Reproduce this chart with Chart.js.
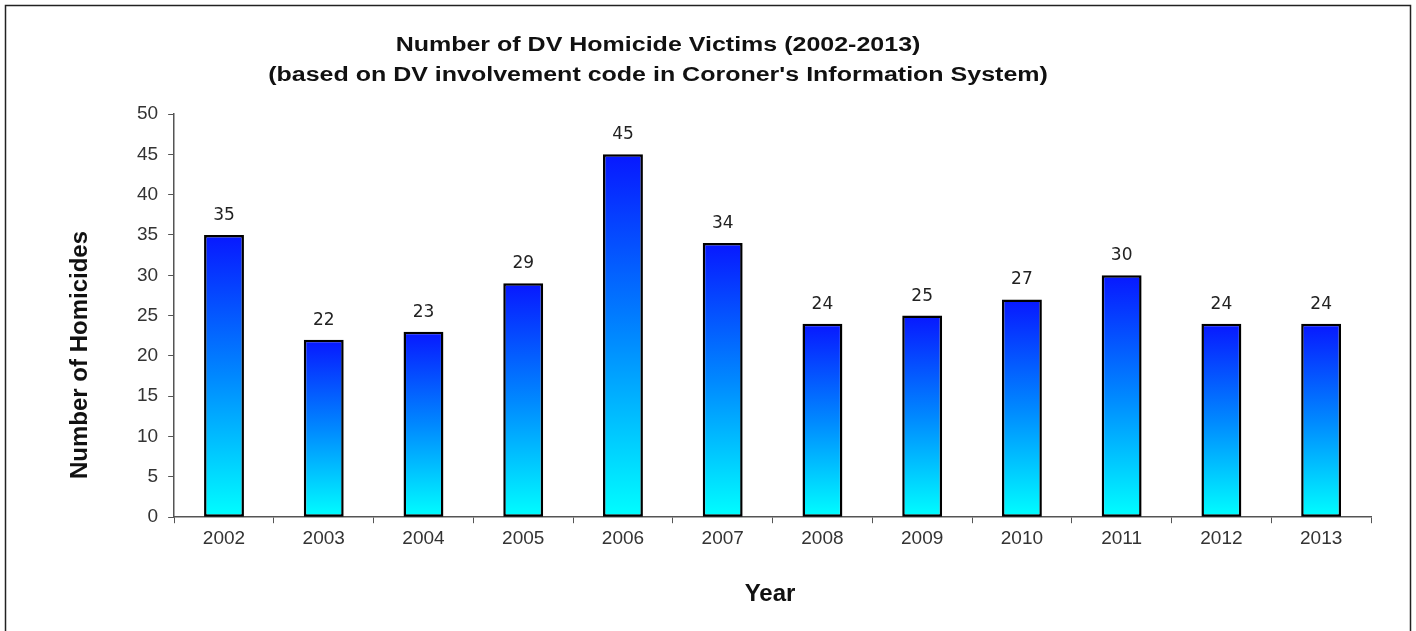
<!DOCTYPE html>
<html>
<head>
<meta charset="utf-8">
<script src="https://cdn.jsdelivr.net/npm/chart.js@4"></script>
<style>
  html, body { margin: 0; padding: 0; background: #fff; }
  #wrap { width: 1416px; height: 631px; }
</style>
</head>
<body>
<div id="wrap"><canvas id="dvChart" width="1416" height="631"></canvas></div>
<script>
const years = ['2002', '2003', '2004', '2005', '2006', '2007', '2008', '2009', '2010', '2011', '2012', '2013'];
const homicides = [35, 22, 23, 29, 45, 34, 24, 25, 27, 30, 24, 24];
const yTicks = [0, 5, 10, 15, 20, 25, 30, 35, 40, 45, 50];
const titleLines = ['Number of DV Homicide Victims (2002-2013)', "(based on DV involvement code in Coroner's Information System)"];
const xTitle = 'Year';
const yTitle = 'Number of Homicides';

// each bar gets its own blue -> cyan gradient, top to bottom
const barGradient = (context) => {
  const chart = context.chart;
  const { ctx, chartArea, scales } = chart;
  if (!chartArea) return '#0066ff';
  const v = homicides[context.dataIndex];
  const top = scales.y.getPixelForValue(v);
  const bottom = scales.y.getPixelForValue(0);
  const g = ctx.createLinearGradient(0, top, 0, bottom);
  g.addColorStop(0, '#0818ff');
  g.addColorStop(0.5, '#0088ff');
  g.addColorStop(1, '#00ffff');
  return g;
};

const valueLabels = {
  id: 'valueLabels',
  afterDatasetsDraw(chart) {
    const { ctx } = chart;
    const meta = chart.getDatasetMeta(0);
    ctx.save();
    ctx.font = '17px "DejaVu Sans"';
    ctx.fillStyle = '#222';
    ctx.textAlign = 'center';
    ctx.textBaseline = 'alphabetic';
    meta.data.forEach((bar, i) => {
      ctx.fillText(homicides[i], bar.x, bar.y - 15);
    });
    ctx.restore();
  }
};

// frame + titles (the original titles are wide and not centred on the plot)
const decorations = {
  id: 'decorations',
  beforeDraw(chart) {
    const { ctx } = chart;
    ctx.save();
    ctx.strokeStyle = '#222';
    ctx.lineWidth = 1.5;
    ctx.strokeRect(5.5, 5.5, 1405, 640);
    ctx.restore();
  },
  afterDraw(chart) {
    const { ctx } = chart;
    ctx.save();
    ctx.fillStyle = '#111';
    ctx.textAlign = 'center';
    ctx.textBaseline = 'middle';

    ctx.font = 'bold 20px Arial, "Liberation Sans"';
    titleLines.forEach((line, i) => {
      ctx.save();
      ctx.translate(658, 45 + i * 30);
      ctx.scale(1.25, 1);
      ctx.fillText(line, 0, 0);
      ctx.restore();
    });

    ctx.font = 'bold 24px Arial, "Liberation Sans"';
    ctx.fillText(xTitle, 770, 594);

    ctx.save();
    ctx.translate(80, 355);
    ctx.rotate(-Math.PI / 2);
    ctx.fillText(yTitle, 0, 0);
    ctx.restore();

    ctx.restore();
  }
};

const ctx = document.getElementById('dvChart').getContext('2d');
new Chart(ctx, {
  type: 'bar',
  data: {
    labels: years,
    datasets: [
      {
        label: 'DV Homicide Victims',
        data: homicides,
        backgroundColor: barGradient,
        borderColor: '#000',
        borderWidth: 2.5,
        borderSkipped: false,
        categoryPercentage: 1,
        barPercentage: 0.4,
      },
    ],
  },
  options: {
    responsive: false,
    animation: false,
    layout: {
      padding: { left: 127, right: 45, top: 114, bottom: 77 },
    },
    plugins: {
      legend: { display: false },
      tooltip: { enabled: false },
      title: { display: false },
    },
    scales: {
      x: {
        grid: { drawOnChartArea: false, drawTicks: true, tickLength: 6, color: '#555', offset: true },
        border: { display: true, color: '#555', width: 1.5 },
        ticks: {
          color: '#333',
          padding: 4,
          font: { family: 'Arial, "Liberation Sans"', size: 19 },
        },
      },
      y: {
        min: 0,
        max: 50,
        afterBuildTicks: (axis) => { axis.ticks = yTicks.map((v) => ({ value: v })); },
        grid: { drawOnChartArea: false, drawTicks: true, tickLength: 6, color: '#555' },
        border: { display: true, color: '#555', width: 1.5 },
        ticks: {
          color: '#333',
          padding: 10,
          font: { family: 'Arial, "Liberation Sans"', size: 19 },
        },
      },
    },
  },
  plugins: [decorations, valueLabels],
});
</script>
</body>
</html>
